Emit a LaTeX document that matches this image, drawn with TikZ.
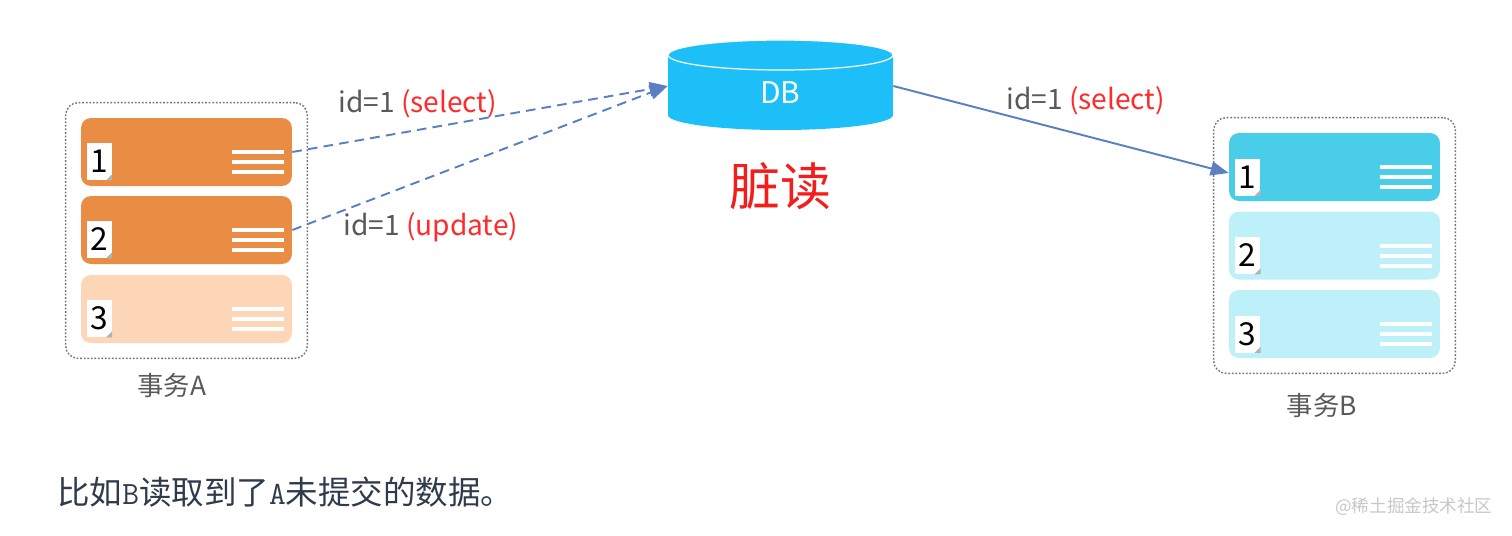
\documentclass[tikz,border=0pt]{standalone}
\usepackage{fontspec}
\setmainfont{Noto Sans CJK SC}
\usetikzlibrary{arrows.meta,fit,positioning}

\definecolor{cardorange}{HTML}{E98D44}
\definecolor{cardpeach}{HTML}{FCD6B6}
\definecolor{cardcyan}{HTML}{4ACDE8}
\definecolor{cardice}{HTML}{BEF0FA}
\definecolor{dbblue}{HTML}{1CBFF7}
\definecolor{linkblue}{HTML}{5A7FC2}
\definecolor{labelgray}{HTML}{595959}
\definecolor{labelred}{HTML}{FF2B2B}
\definecolor{dirtyred}{HTML}{F51C1C}
\definecolor{captionink}{HTML}{2F3B4C}

\begin{document}
\begin{tikzpicture}[x=0.02cm,y=-0.02cm,
  card/.style={rectangle,rounded corners=0.2cm,minimum width=4.22cm,minimum height=1.36cm,inner sep=0pt},
  tab/.style={fill=white,minimum width=0.5cm,minimum height=0.74cm,inner sep=0pt,font=\fontsize{18}{18}\selectfont},
  group box/.style={draw=black!55,line width=0.8pt,dash pattern=on 1pt off 1pt,rounded corners=0.25cm,inner sep=0.3cm},
  link/.style={draw=linkblue,line width=1.1pt,-{Triangle[length=0.36cm,width=0.28cm]}},
  query/.style={anchor=west,inner sep=0pt,font=\fontsize{16}{16}\selectfont,text=labelgray}]

  \useasboundingbox (0,0) rectangle (1512,535);

  % transaction A
  \foreach \n/\y/\c in {1/152/cardorange,2/230/cardorange,3/309/cardpeach}{
    \node[card,fill=\c] (a\n) at (186.5,\y) {};
    \node[tab] (a\n tab) at ([xshift=0.37cm,yshift=-0.19cm]a\n.west) {\n};
    \fill[black!30] (a\n tab.south east) -- ++(-0.12cm,0) -- ++(0.12cm,0.12cm) -- cycle;
    \foreach \k in {0,1,2}
      \draw[white,line width=0.08cm] ([xshift=-1.2cm,yshift=-\k*0.2cm]a\n.east) -- ([xshift=-0.16cm,yshift=-\k*0.2cm]a\n.east);
  }
  \node[group box,fit=(a1)(a3)] (boxa) {};
  \node[font=\fontsize{15}{15}\selectfont,text=labelgray] (namea) at (172,386) {事务A};

  % transaction B
  \foreach \n/\y/\c in {1/167/cardcyan,2/245.5/cardice,3/324/cardice}{
    \node[card,fill=\c] (b\n) at (1334.5,\y) {};
    \node[tab] (b\n tab) at ([xshift=0.38cm,yshift=-0.2cm]b\n.west) {\n};
    \fill[black!30] (b\n tab.south east) -- ++(-0.12cm,0) -- ++(0.12cm,0.12cm) -- cycle;
    \foreach \k in {0,1,2}
      \draw[white,line width=0.08cm] ([xshift=-1.2cm,yshift=-\k*0.2cm]b\n.east) -- ([xshift=-0.16cm,yshift=-\k*0.2cm]b\n.east);
  }
  \node[group box,fit=(b1)(b3)] (boxb) {};
  \node[font=\fontsize{15}{15}\selectfont,text=labelgray] (nameb) at (1322,406) {事务B};

  % database
  \fill[dbblue] (668,55) -- (668,115) arc[start angle=180,end angle=360,x radius=2.25cm,y radius=0.3cm] -- (893,55) -- cycle;
  \filldraw[fill=dbblue,draw=white,line width=0.7pt] (780.5,55) ellipse[x radius=2.25cm,y radius=0.3cm];
  \node[minimum width=4.5cm,minimum height=1.76cm,inner sep=0pt] (db) at (780.5,86) {};
  \node[text=white,font=\fontsize{17}{17}\selectfont] (dbname) at (780.5,93) {DB};
  \node[font=\fontsize{29}{29}\selectfont,text=dirtyred] (dirty) at (780,186) {脏读};

  % queries
  \draw[link,dash pattern=on 5.5pt off 3.5pt] (a1.east) -- (db.west);
  \draw[link,dash pattern=on 5.5pt off 3.5pt] (a2.east) -- (db.west);
  \draw[link] (db.east) -- ([yshift=-0.12cm]b1.west);

  \node[query] (selecta) at (338,104) {id=1 \textcolor{labelred}{(select)}};
  \node[query] (updatea) at (343,227) {id=1 \textcolor{labelred}{(update)}};
  \node[query] (selectb) at (1006,101) {id=1 \textcolor{labelred}{(select)}};

  \node[anchor=west,inner sep=0pt,font=\fontsize{18.5}{18.5}\selectfont,text=captionink] (caption) at (57,492) {比如{\ttfamily B}读取到了{\ttfamily A}未提交的数据。};
  \node[anchor=west,inner sep=0pt,font=\fontsize{10}{10}\selectfont,text=black!22] (mark) at (1335,507) {@稀土掘金技术社区};
\end{tikzpicture}
\end{document}
